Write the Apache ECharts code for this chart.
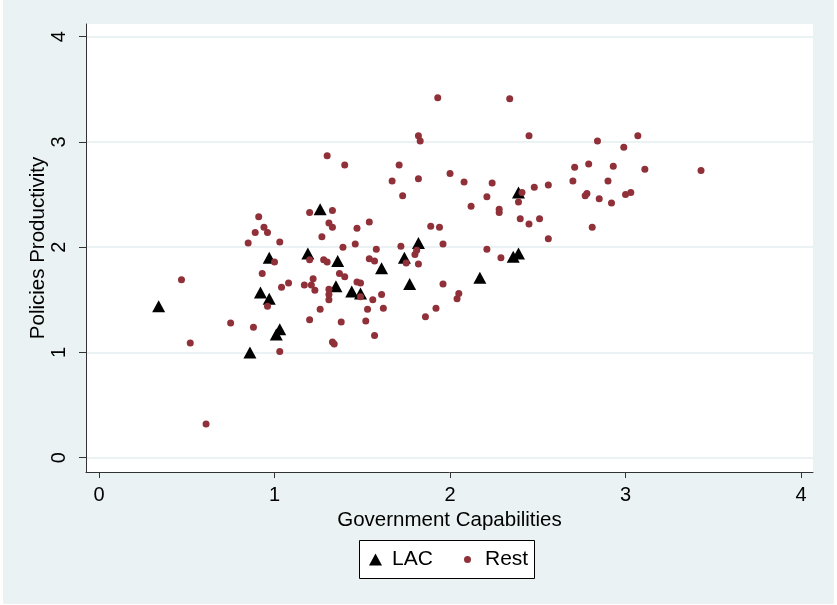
<!DOCTYPE html>
<html>
<head>
<meta charset="utf-8">
<script src="https://cdn.jsdelivr.net/npm/echarts@6/dist/echarts.min.js"></script>
<style>
html,body{margin:0;padding:0;background:#fff;}
#chart{position:absolute;left:3px;top:0;width:831px;height:604px;}
</style>
</head>
<body>
<div id="chart"></div>
<script>
// Government Capabilities (x) vs Policies Productivity (y)
var xTicks=[0,1,2,3,4];
var yTicks=[0,1,2,3,4];
var lacData=[
    [0.34,1.44],[0.86,1.00],[1.01,1.17],[1.03,1.22],[0.92,1.57],[0.97,1.51],[0.97,1.90],
    [1.19,1.94],[1.26,2.36],[1.36,1.87],[1.35,1.63],[1.44,1.58],[1.49,1.56],[1.61,1.80],
    [1.74,1.90],[1.82,2.04],[1.77,1.65],[2.17,1.71],[2.36,1.91],[2.39,1.94],[2.39,2.52]
];
var restData=[
    [0.47,1.69],[0.52,1.09],[0.61,0.32],[0.75,1.28],[0.88,1.24],[1.03,1.01],[0.96,1.44],
    [0.93,1.75],[1.00,1.86],[1.04,1.62],[1.08,1.66],[1.17,1.64],[1.22,1.70],[1.21,1.64],
    [1.23,1.59],[1.26,1.41],[1.20,1.31],[1.20,1.88],[1.28,1.88],[1.30,1.86],
    [0.85,2.04],[1.03,2.05],[0.89,2.14],[0.96,2.14],[0.94,2.19],[0.91,2.29],[1.20,2.33],
    [1.27,2.10],[1.31,2.23],[1.30,2.87],[1.40,2.78],[1.71,2.78],[1.67,2.63],[1.73,2.49],
    [1.82,3.06],[1.83,3.01],[1.82,2.65],[1.33,2.35],[1.33,2.19],[1.47,2.18],[1.54,2.24],
    [1.39,2.00],[1.46,2.03],[1.58,1.98],[1.72,2.01],[1.80,1.93],[1.81,1.97],[1.54,1.89],
    [1.57,1.87],[1.37,1.75],[1.40,1.72],[1.31,1.60],[1.31,1.55],[1.31,1.50],[1.47,1.67],
    [1.49,1.66],[1.49,1.53],[1.61,1.55],[1.56,1.50],[1.62,1.42],[1.53,1.41],[1.52,1.30],
    [1.38,1.29],[1.57,1.16],[1.33,1.10],[1.34,1.08],[1.75,1.85],[1.82,1.84],[1.89,2.20],
    [1.94,2.19],[1.96,2.03],[1.96,1.65],[1.92,1.42],[1.86,1.34],[2.04,1.51],[2.05,1.56],
    [2.12,2.39],[2.21,2.48],[2.28,2.36],[2.28,2.33],[2.21,1.98],[2.29,1.90],[2.24,2.61],
    [2.08,2.62],[2.48,2.57],[2.41,2.52],[2.39,2.43],[2.40,2.27],[2.45,2.22],[2.51,2.27],
    [2.56,2.08],[2.56,2.59],[1.93,3.42],[2.34,3.41],[2.45,3.06],[2.00,2.70],[2.70,2.63],
    [2.71,2.76],[2.84,3.01],[3.07,3.06],[2.99,2.95],[2.79,2.79],[2.93,2.77],[3.11,2.74],
    [3.43,2.73],[2.90,2.63],[2.78,2.51],[2.77,2.49],[2.85,2.46],[2.92,2.42],[3.00,2.50],
    [3.03,2.52],[2.81,2.19]
];
var font='"Liberation Sans", Arial, sans-serif';
var myChart=echarts.init(document.getElementById('chart'));
var option={
    backgroundColor:'#eaf2f3',
    animation:false,
    textStyle:{fontFamily:font},
    grid:{left:83,top:24,right:21,bottom:132,show:true,backgroundColor:'#fff',borderWidth:0},
    graphic:[{
        type:'rect',left:356,top:540,
        shape:{width:175,height:38},
        style:{fill:'#fff',stroke:'#000',lineWidth:1}
    }],
    legend:[{
        data:['LAC'],left:366,top:549,padding:0,
        itemWidth:13,itemHeight:12,
        textStyle:{fontSize:21,color:'#000',fontFamily:font,padding:[0,0,0,5]}
    },{
        data:['Rest'],left:461,top:549,padding:0,
        itemWidth:7,itemHeight:7,
        textStyle:{fontSize:21,color:'#000',fontFamily:font,padding:[0,0,0,9]}
    }],
    xAxis:{
        type:'value',min:-0.074,max:4.068,
        name:'Government Capabilities',nameLocation:'middle',nameGap:38,nameMoveOverlap:false,
        nameTextStyle:{fontSize:20.5,color:'#000',fontFamily:font},
        axisLine:{show:true,onZero:false,lineStyle:{color:'#333',width:1}},
        axisTick:{show:true,length:6,customValues:xTicks,lineStyle:{color:'#333'}},
        axisLabel:{customValues:xTicks,fontSize:20,color:'#000',margin:13,fontFamily:font},
        splitLine:{show:false}
    },
    yAxis:{
        type:'value',min:-0.136,max:4.121,
        name:'Policies Productivity',nameLocation:'middle',nameGap:37,nameMoveOverlap:false,
        nameTextStyle:{fontSize:20.5,color:'#000',fontFamily:font},
        axisLine:{show:true,onZero:false,lineStyle:{color:'#333',width:1}},
        axisTick:{show:true,length:7,customValues:yTicks,lineStyle:{color:'#333'}},
        axisLabel:{customValues:yTicks,fontSize:20,color:'#000',margin:17,rotate:90,fontFamily:font},
        splitLine:{show:true,lineStyle:{color:'#eaf2f3',width:2}}
    },
    series:[{
        name:'LAC',type:'scatter',symbol:'triangle',symbolSize:[13,12],
        itemStyle:{color:'#000',opacity:1},
        data:lacData
    },{
        name:'Rest',type:'scatter',symbol:'circle',symbolSize:7,
        itemStyle:{color:'#903038',opacity:1},
        data:restData
    }]
};
myChart.setOption(option);
</script>
</body>
</html>
